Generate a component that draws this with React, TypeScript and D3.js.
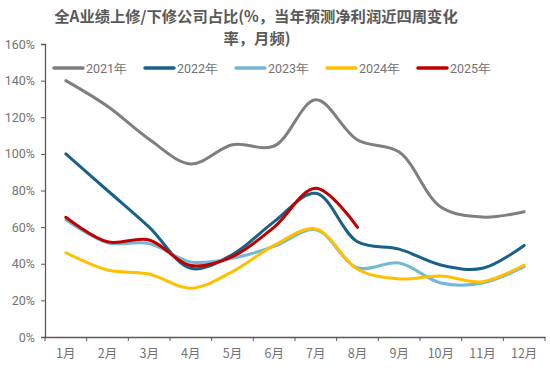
import React, { useRef, useEffect } from 'react';
import * as d3 from 'd3';

const months = ['1月', '2月', '3月', '4月', '5月', '6月', '7月', '8月', '9月', '10月', '11月', '12月'];
const yTicks = [0, 20, 40, 60, 80, 100, 120, 140, 160];

const y2021 = [140, 126, 108, 94.5, 105, 104.3, 129.5, 107.6, 101, 71, 65.5, 68.4];
const y2022 = [100, 80, 60, 37.5, 45, 63, 78.5, 52, 48, 39.3, 37.5, 50];
const y2023 = [64, 51.5, 51, 41, 43, 49.5, 58.5, 37.8, 40.4, 29.5, 29.5, 38.4];
const y2024 = [46, 36.6, 34.4, 26.6, 35.7, 50, 59, 37, 31.7, 33.3, 30.2, 39.3];
const y2025 = [65.4, 52, 53, 39, 43.9, 60, 81.2, 59.9];

const seriesNames = ['2021年', '2022年', '2023年', '2024年', '2025年'];
const seriesColors = ['#7f7f7f', '#19618a', '#74b7d6', '#ffc000', '#c00000'];

const W = 550;
const H = 372;

const App: React.FC = () => {
  const svgRef = useRef<SVGSVGElement>(null);

  useEffect(() => {
    if (!svgRef.current) return;
    const svg = d3.select(svgRef.current);
    svg.selectAll('*').remove();

    const font = '"Noto Sans CJK SC", "Noto Sans", sans-serif';
    const left = 45, right = 545, top = 44, bottom = 337;

    const x = d3.scaleBand<string>().domain(months).range([left, right]);
    const y = d3.scaleLinear().domain([0, 160]).range([bottom, top]);

    // title
    const title = svg.append('g')
      .attr('font-family', font)
      .attr('font-size', 15.3)
      .attr('font-weight', 'bold')
      .attr('fill', '#595959')
      .attr('text-anchor', 'middle');
    title.append('text').attr('x', 256).attr('y', 22)
      .text('全A业绩上修/下修公司占比(%，当年预测净利润近四周变化');
    title.append('text').attr('x', 257).attr('y', 44).text('率，月频)');

    // y axis
    const yAxis = svg.append('g')
      .attr('transform', `translate(${left},0)`)
      .call(d3.axisLeft(y).tickValues(yTicks).tickSize(4).tickFormat(d => `${d}%`));
    yAxis.select('.domain').attr('stroke', '#595959').attr('stroke-width', 1.3);
    yAxis.selectAll('.tick line').attr('stroke', '#595959');
    yAxis.selectAll('.tick text')
      .attr('x', -10)
      .attr('fill', '#737373')
      .attr('font-size', 12.5)
      .attr('font-family', 'Roboto, sans-serif');

    // x axis
    const xAxis = svg.append('g')
      .attr('transform', `translate(0,${bottom})`)
      .call(d3.axisBottom(x).tickSize(0).tickSizeOuter(0));
    xAxis.select('.domain').attr('stroke', '#595959').attr('stroke-width', 1.3);
    xAxis.selectAll('.tick text')
      .attr('y', 12)
      .attr('dy', '0.71em')
      .attr('fill', '#737373')
      .attr('font-size', 12.5)
      .attr('font-family', font);
    xAxis.selectAll('.boundary')
      .data(d3.range(months.length + 1))
      .enter().append('line')
      .attr('x1', i => left + i * x.step())
      .attr('x2', i => left + i * x.step())
      .attr('y1', 0).attr('y2', 4)
      .attr('stroke', '#595959');

    // lines
    const allSeries = [y2021, y2022, y2023, y2024, y2025];
    const line = d3.line<number>()
      .x((_, i) => (x(months[i]) ?? 0) + x.bandwidth() / 2)
      .y(d => y(d))
      .curve(d3.curveCatmullRom.alpha(0.5));

    allSeries.forEach((vals, i) => {
      svg.append('path')
        .attr('d', line(vals) ?? '')
        .attr('fill', 'none')
        .attr('stroke', seriesColors[i])
        .attr('stroke-width', 3)
        .attr('stroke-linecap', 'round')
        .attr('stroke-linejoin', 'round');
    });

    // legend
    const legend = svg.append('g').attr('font-family', 'Roboto, sans-serif').attr('font-size', 12.5);
    seriesNames.forEach((name, i) => {
      const lx = 54 + i * 91;
      legend.append('line')
        .attr('x1', lx).attr('x2', lx + 29)
        .attr('y1', 68).attr('y2', 68)
        .attr('stroke', seriesColors[i])
        .attr('stroke-width', 3.5)
        .attr('stroke-linecap', 'round');
      legend.append('text')
        .attr('x', lx + 32).attr('y', 72.5)
        .attr('fill', '#737373')
        .text(name);
    });
  }, []);

  return (
    <svg ref={svgRef} width={W} height={H}
      style={{ position: 'absolute', left: 0, top: 0, background: '#fff' }} />
  );
};

export default App;
